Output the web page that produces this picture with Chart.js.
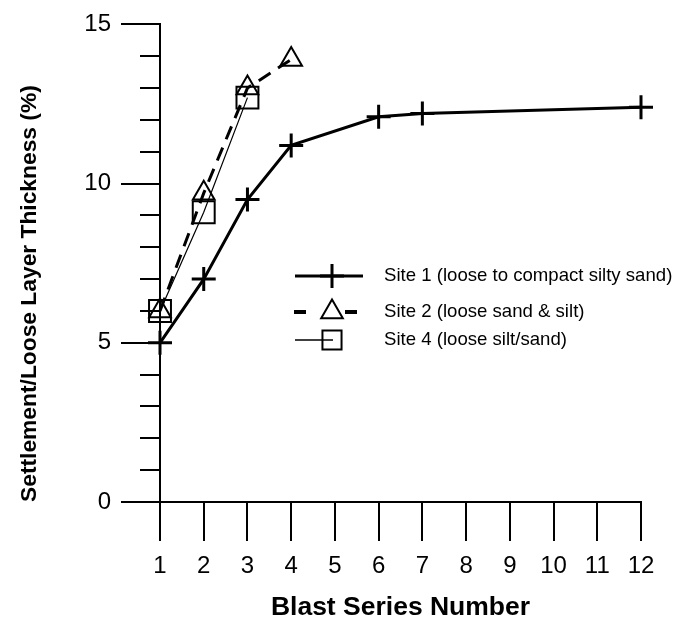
<!DOCTYPE html>
<html><head><meta charset="utf-8">
<script src="https://cdn.jsdelivr.net/npm/chart.js@4.4.0/dist/chart.umd.min.js"></script>
<style>html,body{margin:0;padding:0;background:#fff;}#wrap{width:675px;height:624px;}</style>
</head><body><div id="wrap"><canvas id="c" width="675" height="624"></canvas></div>
<script>
// ---- data ----
const categories = [1,2,3,4,5,6,7,8,9,10,11,12];
const yTickValues = [0,5,10,15];
const yMinorValues = [1,2,3,4,6,7,8,9,11,12,13,14];
const seriesNames = ['Site 1 (loose to compact silty sand)','Site 2 (loose sand & silt)','Site 4 (loose silt/sand)'];
const site1X = [1,2,3,4,6,7,12];
const site1Y = [5.0,7.0,9.5,11.2,12.1,12.2,12.4];
const site2X = [1,2,3,4];
const site2Y = [6.0,9.7,13.0,13.9];
const site4X = [1,2,3];
const site4Y = [6.0,9.1,12.7];
const xTitle = 'Blast Series Number';
const yTitle = 'Settlement/Loose Layer Thickness (%)';

const FONT = '"Liberation Sans", Arial, Helvetica, sans-serif';
const pts = (xs, ys) => xs.map((x,i)=>({x:x, y:ys[i]}));

const minorTicks = {
  id:'minorTicks',
  afterDraw(chart){
    const ctx = chart.ctx, y = chart.scales.y, left = chart.chartArea.left;
    ctx.save(); ctx.strokeStyle='#000'; ctx.lineWidth=2;
    yMinorValues.forEach(v=>{
      const py = Math.round(y.getPixelForValue(v));
      ctx.beginPath(); ctx.moveTo(left-20, py); ctx.lineTo(left, py); ctx.stroke();
    });
    ctx.restore();
  }
};

const legendRows = [
  {y:276, style:'cross', r:12, bw:3, segs:[[295,363,3]]},
  {y:312, style:'triangle', r:12.5, bw:2, segs:[[294,306,4],[345,357,4]]},
  {y:340, style:'rect', r:13.5, bw:2, segs:[[295,333,1.5]]}
];
const customLegend = {
  id:'customLegend',
  afterDraw(chart){
    const ctx = chart.ctx;
    ctx.save();
    legendRows.forEach((row,i)=>{
      ctx.strokeStyle='#000';
      row.segs.forEach(s=>{
        ctx.lineWidth=s[2]; ctx.beginPath(); ctx.moveTo(s[0],row.y); ctx.lineTo(s[1],row.y); ctx.stroke();
      });
      ctx.lineWidth=row.bw; ctx.fillStyle='rgba(0,0,0,0)';
      Chart.helpers.drawPoint(ctx,{pointStyle:row.style, radius:row.r, borderWidth:row.bw, rotation:0}, 332, row.y);
      ctx.fillStyle='#000'; ctx.font='18.6px '+FONT; ctx.textBaseline='middle'; ctx.textAlign='left';
      ctx.fillText(seriesNames[i], 384, row.y);
    });
    ctx.restore();
  }
};

const axisCommon = {
  grid:{drawOnChartArea:false, drawTicks:true, tickLength:39, color:'#000', lineWidth:2},
  border:{display:true, color:'#000', width:2},
};

new Chart(document.getElementById('c'), {
  type:'scatter',
  data:{datasets:[
    {label:seriesNames[0], data:pts(site1X,site1Y), showLine:true, borderColor:'#000', borderWidth:3,
     pointStyle:'cross', pointRadius:12, pointBorderWidth:3, pointBorderColor:'#000', pointBackgroundColor:'rgba(0,0,0,0)', clip:false},
    {label:seriesNames[1], data:pts(site2X,site2Y), showLine:true, borderColor:'#000', borderWidth:3, borderDash:[14,9],
     pointStyle:'triangle', pointRadius:12.5, pointBorderWidth:2, pointBorderColor:'#000', pointBackgroundColor:'rgba(0,0,0,0)', clip:false},
    {label:seriesNames[2], data:pts(site4X,site4Y), showLine:true, borderColor:'#000', borderWidth:1.2,
     pointStyle:'rect', pointRadius:15.5, pointBorderWidth:2, pointBorderColor:'#000', pointBackgroundColor:'rgba(0,0,0,0)', clip:false}
  ]},
  options:{
    responsive:false, animation:false, devicePixelRatio:1,
    layout:{padding:{top:22,right:34,left:0,bottom:0}},
    plugins:{legend:{display:false}, tooltip:{enabled:false}},
    elements:{line:{tension:0}},
    scales:{
      x:{type:'linear', min:1, max:12, ...axisCommon,
        afterBuildTicks(s){ s.ticks = categories.map(v=>({value:v})); },
        afterFit(s){ s.height = 122; },
        ticks:{color:'#000', font:{family:FONT, size:24}, padding:11, maxRotation:0, autoSkip:false},
        title:{display:true, text:xTitle, color:'#000', font:{family:FONT, size:26.5, weight:'bold'}, padding:{top:0,bottom:0}}
      },
      y:{type:'linear', min:0, max:15, ...axisCommon,
        afterBuildTicks(s){ s.ticks = yTickValues.map(v=>({value:v})); },
        afterFit(s){ s.width = 160; },
        ticks:{color:'#000', font:{family:FONT, size:24}, padding:10},
        title:{display:true, text:yTitle, align:'start', color:'#000', font:{family:FONT, size:22.8, weight:'bold'}, padding:{top:16,bottom:0}}
      }
    }
  },
  plugins:[minorTicks, customLegend]
});
</script></body></html>
